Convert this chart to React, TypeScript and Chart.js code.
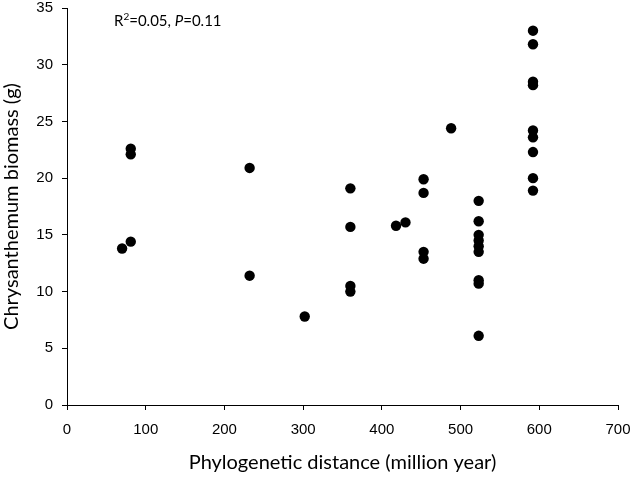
import React, { useEffect, useRef } from "react";
import { Chart, registerables } from "chart.js";

Chart.register(...registerables);

const distances: number[] = [
  70, 81, 81, 81,
  232, 232,
  302,
  360, 360, 360, 360,
  418, 430,
  453, 453, 453, 453,
  488,
  523, 523, 523, 523, 523, 523, 523, 523, 523,
  592, 592, 592, 592, 592, 592, 592, 592, 592,
];
const biomass: number[] = [
  13.8, 14.4, 22.1, 22.6,
  20.9, 11.4,
  7.8,
  19.1, 15.7, 10.5, 10.0,
  15.8, 16.1,
  19.9, 18.7, 13.5, 12.9,
  24.4,
  18.0, 16.2, 15.0, 14.5, 14.0, 13.5, 11.0, 10.7, 6.1,
  33.0, 31.8, 28.5, 28.2, 24.2, 23.6, 22.3, 20.0, 18.9,
];
const xTicks = { min: 0, max: 700, step: 100 };
const yTicks = { min: 0, max: 35, step: 5 };
const xTitle = "Phylogenetic distance (million year)";
const yTitle = "Chrysanthemum biomass (g)";

const titleFont = "Lato";
const tickFont = "'Liberation Sans', Arial, sans-serif";

const annotationPlugin = {
  id: "annot",
  afterDraw(chart: any) {
    const ctx = chart.ctx as CanvasRenderingContext2D;
    ctx.save();
    ctx.fillStyle = "#000";
    ctx.textBaseline = "alphabetic";
    ctx.textAlign = "left";
    let x = 114;
    const y = 26;
    const parts: { t: string; f: string; dy: number }[] = [
      { t: "R", f: `15px ${titleFont}`, dy: 0 },
      { t: "2", f: `10px ${titleFont}`, dy: -6 },
      { t: "=0.05, ", f: `15px ${titleFont}`, dy: 0 },
      { t: "P", f: `italic 15px ${titleFont}`, dy: 0 },
      { t: "=0.11", f: `15px ${titleFont}`, dy: 0 },
    ];
    for (const p of parts) {
      ctx.font = p.f;
      ctx.fillText(p.t, x, y + p.dy);
      x += ctx.measureText(p.t).width;
    }
    ctx.restore();
  },
};

export default function App() {
  const ref = useRef<HTMLCanvasElement | null>(null);
  useEffect(() => {
    if (!ref.current) return;
    const points = distances.map((d, i) => ({ x: d, y: biomass[i] }));
    const chart = new Chart(ref.current, {
      type: "scatter",
      data: {
        datasets: [
          {
            data: points,
            backgroundColor: "#000",
            borderColor: "#000",
            borderWidth: 0,
            pointRadius: 5.2,
            pointHoverRadius: 5.2,
          },
        ],
      },
      options: {
        responsive: false,
        animation: false,
        events: [],
        layout: { padding: { top: 8, right: 15, left: 0, bottom: 0 } },
        plugins: {
          legend: { display: false },
          tooltip: { enabled: false },
        },
        scales: {
          x: {
            type: "linear",
            min: xTicks.min,
            max: xTicks.max,
            afterFit(scale: any) {
              scale.height = 72;
              scale.paddingLeft = 0;
              scale.paddingRight = 0;
            },
            ticks: {
              stepSize: xTicks.step,
              color: "#000",
              padding: 11,
              font: { family: tickFont, size: 15 },
            },
            grid: {
              drawOnChartArea: false,
              drawTicks: true,
              tickLength: 5,
              color: "#000",
            },
            border: { display: true, color: "#000", width: 1 },
            title: {
              display: true,
              text: xTitle,
              color: "#000",
              font: { family: titleFont, size: 20 },
              padding: { top: 0, bottom: 2 },
            },
          },
          y: {
            type: "linear",
            min: yTicks.min,
            max: yTicks.max,
            afterFit(scale: any) {
              scale.width = 67;
              scale.paddingTop = 0;
              scale.paddingBottom = 0;
            },
            ticks: {
              stepSize: yTicks.step,
              color: "#000",
              padding: 9,
              font: { family: tickFont, size: 15 },
            },
            grid: {
              drawOnChartArea: false,
              drawTicks: true,
              tickLength: 5,
              color: "#000",
            },
            border: { display: true, color: "#000", width: 1 },
            title: {
              display: true,
              text: yTitle,
              color: "#000",
              font: { family: titleFont, size: 20 },
              padding: { top: 0, bottom: 0 },
            },
          },
        },
      },
      plugins: [annotationPlugin],
    });
    return () => chart.destroy();
  }, []);
  return (
    <div style={{ position: "fixed", left: 0, top: 0, width: 633, height: 477, background: "#fff" }}>
      <canvas ref={ref} width={633} height={477} style={{ display: "block" }} />
    </div>
  );
}
